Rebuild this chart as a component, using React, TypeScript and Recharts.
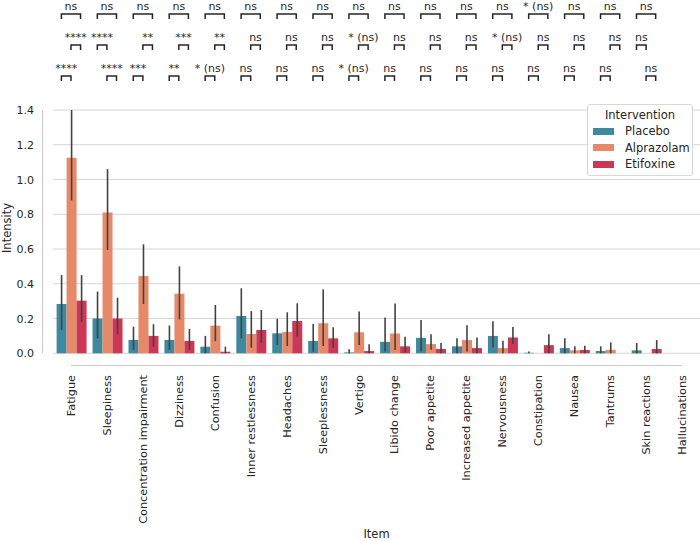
import React from "react";
import { BarChart, Bar, XAxis, YAxis, CartesianGrid, ErrorBar } from "recharts";

const items = [
  "Fatigue", "Sleepiness", "Concentration impairment", "Dizziness", "Confusion",
  "Inner restlessness", "Headaches", "Sleeplessness", "Vertigo", "Libido change",
  "Poor appetite", "Increased appetite", "Nervousness", "Constipation", "Nausea",
  "Tantrums", "Skin reactions", "Hallucinations",
];

// mean intensity per item
const placebo = [0.284, 0.2, 0.077, 0.077, 0.038, 0.215, 0.115, 0.071, 0.005, 0.066, 0.089, 0.04, 0.1, 0.003, 0.03, 0.013, 0.017, 0];
const alprazolam = [1.125, 0.81, 0.445, 0.343, 0.159, 0.111, 0.123, 0.173, 0.121, 0.114, 0.053, 0.076, 0.03, 0, 0.017, 0.02, 0, 0];
const etifoxine = [0.303, 0.2, 0.1, 0.071, 0.009, 0.134, 0.186, 0.086, 0.013, 0.04, 0.025, 0.03, 0.091, 0.047, 0.019, 0, 0.025, 0];

// confidence interval bounds
const placeboLow = [0.134, 0.086, 0.02, 0.02, 0, 0.086, 0.048, 0.009, 0, 0.01, 0.01, 0, 0.034, 0, 0, 0, 0, 0];
const placeboHigh = [0.45, 0.355, 0.153, 0.16, 0.1, 0.374, 0.199, 0.169, 0.023, 0.206, 0.192, 0.086, 0.185, 0.01, 0.087, 0.04, 0.059, 0];
const alprazolamLow = [0.88, 0.595, 0.284, 0.195, 0.07, 0.032, 0.042, 0.042, 0.048, 0.019, 0.02, 0.01, 0, 0, 0, 0, 0, 0];
const alprazolamHigh = [1.4, 1.06, 0.627, 0.5, 0.278, 0.243, 0.236, 0.368, 0.24, 0.286, 0.11, 0.162, 0.072, 0, 0.04, 0.063, 0, 0];
const etifoxineLow = [0.18, 0.11, 0.038, 0.02, 0, 0.061, 0.096, 0.032, 0, 0.005, 0, 0, 0.053, 0, 0, 0, 0, 0];
const etifoxineHigh = [0.45, 0.32, 0.167, 0.14, 0.038, 0.249, 0.288, 0.15, 0.052, 0.095, 0.059, 0.091, 0.152, 0.11, 0.043, 0, 0.076, 0];

const yTicks = [0, 0.2, 0.4, 0.6, 0.8, 1.0, 1.2, 1.4];

// significance annotations, top row to bottom row (P = Placebo, A = Alprazolam, E = Etifoxine)
const sigRow1 = ["ns", "ns", "ns", "ns", "ns", "ns", "ns", "ns", "ns", "ns", "ns", "ns", "ns", "* (ns)", "ns", "ns", "ns"];
const pairRow1 = ["PE", "PE", "PE", "PE", "PE", "PE", "PE", "PE", "PE", "PE", "PE", "PE", "PE", "PE", "PE", "PE", "PE"];
const sigRow2 = ["****", "****", "**", "***", "**", "ns", "ns", "ns", "* (ns)", "ns", "ns", "ns", "* (ns)", "ns", "ns", "ns", "ns"];
const pairRow2 = ["AE", "PA", "AE", "AE", "AE", "AE", "AE", "AE", "AE", "AE", "AE", "AE", "AE", "AE", "AE", "AE", "PA"];
const sigRow3 = ["****", "****", "***", "**", "* (ns)", "ns", "ns", "ns", "* (ns)", "ns", "ns", "ns", "ns", "ns", "ns", "ns", "ns"];
const pairRow3 = ["PA", "AE", "PA", "PA", "PA", "PA", "PA", "PA", "PA", "PA", "PA", "PA", "PA", "PA", "PA", "PA", "AE"];

const series = [
  { key: "placebo", name: "Placebo", color: "#3E89A0" },
  { key: "alprazolam", name: "Alprazolam", color: "#E58968" },
  { key: "etifoxine", name: "Etifoxine", color: "#CC3755" },
];

const data = items.map((item, i) => ({
  item,
  placebo: placebo[i],
  alprazolam: alprazolam[i],
  etifoxine: etifoxine[i],
  placeboErr: [placebo[i] - placeboLow[i], placeboHigh[i] - placebo[i]],
  alprazolamErr: [alprazolam[i] - alprazolamLow[i], alprazolamHigh[i] - alprazolam[i]],
  etifoxineErr: [etifoxine[i] - etifoxineLow[i], etifoxineHigh[i] - etifoxine[i]],
}));

const W = 700;
const H = 541;
const TOP = 110;
const Y_W = 53;
const X_H = 187.7;
const PLOT_H = H - TOP - X_H;
const BAND = (W - Y_W) / items.length;
const BAR = (BAND * 0.8) / 3;
const FONT = "DejaVu Sans, sans-serif";
const INK = "#262626";
const SPINE = "#cccccc";

const rows = [
  { sig: sigRow1, pair: pairRow1, y: 14 },
  { sig: sigRow2, pair: pairRow2, y: 45 },
  { sig: sigRow3, pair: pairRow3, y: 76 },
];
const groupOffset: Record<string, number> = { P: -BAR, A: 0, E: BAR };

const YTick = (props: any) => {
  const { y, payload } = props;
  return (
    <g>
      <text x={34} y={y} dy={4} textAnchor="end" fontSize={11} fill={INK} fontFamily={FONT}>
        {payload.value.toFixed(1)}
      </text>
      {payload.value === 0 && (
        <line x1={42.5} x2={42.5} y1={y} y2={y - PLOT_H} stroke={SPINE} strokeWidth={1.2} />
      )}
    </g>
  );
};

const YLabel = () => (
  <text x={11} y={228} transform="rotate(-90 11 228)" textAnchor="middle" fontSize={11.5} fill={INK} fontFamily={FONT}>
    Intensity
  </text>
);

const ItemTick = (props: any) => {
  const { x, payload, index } = props;
  const i = payload.index ?? index;
  return (
    <g>
      <text
        x={x}
        y={375}
        transform={`rotate(-90 ${x} 375)`}
        textAnchor="end"
        dy={4}
        fontSize={11.3}
        fill={INK}
        fontFamily={FONT}
      >
        {payload.value}
      </text>
      {i < items.length - 1 && (
        <line x1={x} x2={x + BAND} y1={365.5} y2={365.5} stroke={SPINE} strokeWidth={1.2} />
      )}
      {rows.map((r, k) => {
        if (i >= r.sig.length) return null;
        const p = r.pair[i];
        const x1 = x + groupOffset[p[0]];
        const x2 = x + groupOffset[p[1]];
        return (
          <g key={k}>
            <path
              d={`M${x1},${r.y + 5} L${x1},${r.y} L${x2},${r.y} L${x2},${r.y + 5}`}
              fill="none"
              stroke={INK}
              strokeWidth={1.5}
            />
            <text x={(x1 + x2) / 2} y={r.y - 4} textAnchor="middle" fontSize={11} fill={INK} fontFamily={FONT}>
              {r.sig[i]}
            </text>
          </g>
        );
      })}
    </g>
  );
};

export default function App() {
  return (
    <div style={{ position: "absolute", left: 0, top: 0, width: W, height: H, background: "#fff", fontFamily: FONT }}>
      <BarChart
        width={W}
        height={H}
        data={data}
        margin={{ top: TOP, right: 0, bottom: 0, left: 0 }}
        barCategoryGap="10%"
        barGap={0}
      >
        <CartesianGrid vertical={false} stroke="#d5d5d5" strokeWidth={1.1} />
        <XAxis
          dataKey="item"
          interval={0}
          height={X_H}
          tickLine={false}
          axisLine={false}
          tick={<ItemTick />}
          label={{ value: "Item", position: "insideBottom", offset: 3, fontSize: 11.5, fill: INK, fontFamily: FONT }}
        />
        <YAxis
          width={Y_W}
          domain={[0, 1.4]}
          ticks={yTicks}
          tickLine={false}
          axisLine={false}
          tick={<YTick />}
          label={<YLabel />}
        />
        {series.map((s) => (
          <Bar key={s.key} dataKey={s.key} name={s.name} fill={s.color} isAnimationActive={false}>
            <ErrorBar dataKey={`${s.key}Err`} width={0} stroke="#424242" strokeWidth={1.6} />
          </Bar>
        ))}
      </BarChart>
      <div
        style={{
          position: "absolute",
          left: 587,
          top: 104,
          width: 106,
          height: 72,
          boxSizing: "border-box",
          border: "1px solid #d8d8d8",
          borderRadius: 3,
          background: "rgba(255,255,255,0.85)",
          color: INK,
          fontSize: 11.5,
        }}
      >
        <div style={{ textAlign: "center", marginTop: 2, lineHeight: "16px" }}>Intervention</div>
        {series.map((s) => (
          <div key={s.key} style={{ display: "flex", alignItems: "center", height: 16.5, marginLeft: 5 }}>
            <span style={{ display: "inline-block", width: 21, height: 7, background: s.color, marginRight: 11 }} />
            <span>{s.name}</span>
          </div>
        ))}
      </div>
    </div>
  );
}
